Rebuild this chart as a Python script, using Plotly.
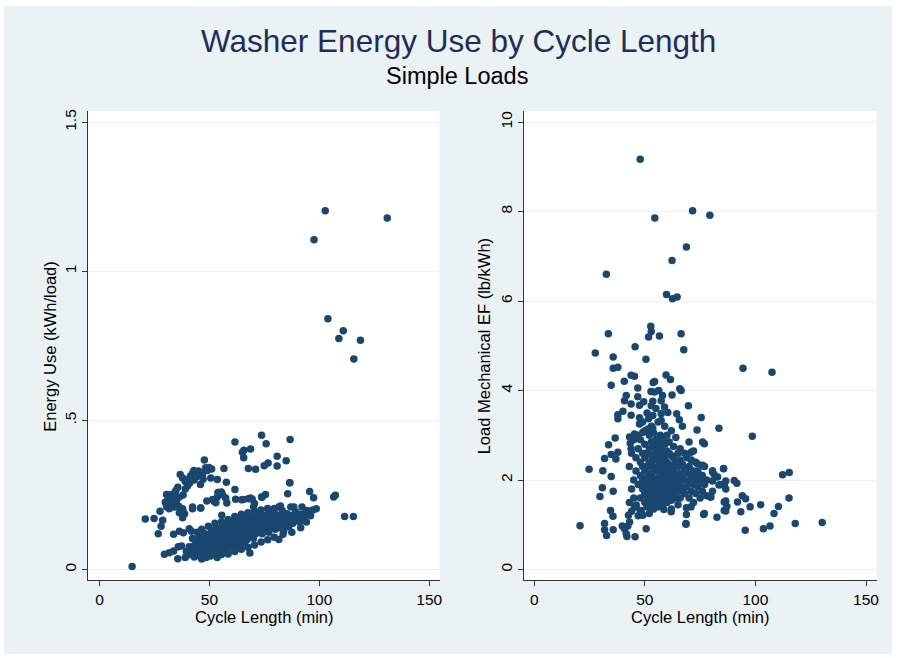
import plotly.graph_objects as go

# ---- data (cycle length in min) ----
# left panel: energy use (kWh/load)
left_outliers = [(14.8, 0.01), (102.7, 1.203), (130.9, 1.179), (97.6, 1.106), (103.9, 0.841),
                 (110.9, 0.801), (108.9, 0.775), (118.7, 0.769), (115.7, 0.706)]

left_upper = [(73.7, 0.450), (61.6, 0.428), (75.8, 0.422), (86.7, 0.436), (65.0, 0.393), (65.7, 0.400),
              (68.7, 0.404), (65.6, 0.375), (47.7, 0.367), (80.8, 0.380), (84.9, 0.365), (76.7, 0.357),
              (74.9, 0.348), (67.7, 0.339), (71.0, 0.336), (80.8, 0.347), (56.6, 0.339), (48.3, 0.341),
              (49.8, 0.342), (51.0, 0.337), (49.0, 0.332), (42.9, 0.332), (43.8, 0.328), (42.3, 0.323),
              (41.4, 0.314), (36.7, 0.319), (37.8, 0.307), (39.0, 0.295), (40.5, 0.303), (46.8, 0.315),
              (47.1, 0.303), (45.9, 0.285), (50.6, 0.307), (53.6, 0.302), (57.7, 0.293), (86.6, 0.291),
              (35.6, 0.276), (34.7, 0.265), (34.0, 0.256), (32.5, 0.251), (30.5, 0.252), (31.7, 0.240),
              (31.0, 0.232), (29.9, 0.226), (30.5, 0.210), (31.7, 0.204), (33.8, 0.237), (36.3, 0.243),
              (27.5, 0.195), (20.8, 0.169), (24.8, 0.171), (28.7, 0.165), (28.0, 0.145), (26.7, 0.120),
              (36.0, 0.212), (37.8, 0.204), (38.7, 0.187), (36.3, 0.190), (37.8, 0.174), (42.3, 0.204),
              (46.1, 0.206), (48.8, 0.230), (52.1, 0.229), (54.1, 0.258), (55.9, 0.252), (57.4, 0.240),
              (52.9, 0.224), (53.6, 0.243), (61.6, 0.268), (61.9, 0.236), (65.4, 0.235), (68.7, 0.240),
              (70.1, 0.210), (73.9, 0.242), (75.5, 0.252), (85.6, 0.254), (55.6, 0.182), (81.6, 0.210),
              (83.1, 0.198), (87.0, 0.210), (84.6, 0.187), (81.6, 0.179), (83.7, 0.171), (86.1, 0.143),
              (83.8, 0.129), (81.6, 0.101), (98.6, 0.204), (94.4, 0.198), (95.9, 0.193), (92.1, 0.210),
              (107.3, 0.249), (106.5, 0.243), (95.6, 0.262), (97.4, 0.241), (86.5, 0.291), (94.1, 0.159),
              (90.6, 0.165), (87.6, 0.176), (85.3, 0.187), (88.4, 0.210), (89.4, 0.192), (82.3, 0.213),
              (80.1, 0.165), (84.0, 0.143), (73.7, 0.243), (69.5, 0.236), (70.5, 0.221), (67.7, 0.237),
              (64.6, 0.234), (57.9, 0.223), (53.9, 0.258), (55.4, 0.260), (51.4, 0.235), (45.9, 0.206),
              (42.3, 0.210), (37.8, 0.198), (33, 0.22), (35, 0.23), (38, 0.25), (39, 0.27), (41, 0.29),
              (44, 0.31), (45, 0.33), (46, 0.325), (43, 0.30), (40, 0.28), (34, 0.21), (32, 0.225),
              (111.5, 0.178), (115.5, 0.178)]

left_fringe = [(29.5, 0.051), (31.7, 0.056), (33.7, 0.062), (35.8, 0.076), (37.3, 0.079), (35.6, 0.036),
               (39.0, 0.040), (43.1, 0.042), (45.0, 0.047), (33.7, 0.118), (36.3, 0.128), (38.1, 0.123),
               (40.8, 0.137), (41.8, 0.128), (42.3, 0.104), (45.3, 0.109), (40.8, 0.076), (43.1, 0.070),
               (68.4, 0.055), (39.5, 0.06), (41, 0.05)]

left_core = [(42, 0.06), (43, 0.08), (44, 0.05), (44, 0.09), (45, 0.07), (45, 0.10), (46, 0.06), (46, 0.085),
             (47, 0.05), (47, 0.075), (47, 0.11), (48, 0.065), (48, 0.09), (48, 0.12),
             (49, 0.07), (49, 0.10), (49, 0.055), (50, 0.08), (50, 0.115), (50, 0.06), (51, 0.09), (51, 0.13),
             (51, 0.07), (52, 0.05), (52, 0.10), (52, 0.12), (52, 0.08), (53, 0.065), (53, 0.09), (53, 0.11),
             (53, 0.14), (54, 0.075), (54, 0.10), (54, 0.125), (54, 0.055),
             (55, 0.085), (55, 0.11), (55, 0.13), (55, 0.07), (56, 0.095), (56, 0.12), (56, 0.15), (56, 0.065),
             (57, 0.08), (57, 0.105), (57, 0.13), (57, 0.09), (58, 0.07), (58, 0.10), (58, 0.12), (58, 0.14),
             (59, 0.085), (59, 0.11), (59, 0.13), (59, 0.155), (60, 0.075), (60, 0.095), (60, 0.12), (60, 0.14),
             (60, 0.105),
             (61, 0.09), (61, 0.115), (61, 0.135), (61, 0.16), (62, 0.08), (62, 0.105), (62, 0.125), (62, 0.15),
             (63, 0.095), (63, 0.12), (63, 0.14), (63, 0.165), (63, 0.11), (64, 0.085), (64, 0.105), (64, 0.13),
             (64, 0.155), (65, 0.10), (65, 0.12), (65, 0.145), (65, 0.17), (66, 0.11), (66, 0.135), (66, 0.16),
             (66, 0.09),
             (67, 0.12), (67, 0.145), (67, 0.175), (67, 0.10), (68, 0.13), (68, 0.155), (68, 0.11), (69, 0.14),
             (69, 0.165), (69, 0.12), (70, 0.105), (70, 0.13), (70, 0.15), (70, 0.175), (71, 0.14), (71, 0.16),
             (71, 0.12), (72, 0.13), (72, 0.15), (72, 0.17), (72, 0.19),
             (73, 0.14), (73, 0.16), (74, 0.12), (74, 0.15), (74, 0.175), (75, 0.135), (75, 0.16), (75, 0.18),
             (76, 0.145), (76, 0.17), (77, 0.125), (77, 0.155), (77, 0.19), (78, 0.14), (78, 0.165), (79, 0.15),
             (79, 0.175), (80, 0.135), (80, 0.16), (80, 0.185),
             (81, 0.15), (82, 0.17), (82, 0.14), (83, 0.16), (84, 0.18), (85, 0.15), (85, 0.17), (86, 0.165),
             (87, 0.18), (88, 0.155), (88, 0.175), (89, 0.19), (90, 0.17), (91, 0.16), (92, 0.185), (93, 0.175),
             (94, 0.19), (96, 0.18), (97, 0.2)]

# edges of the dense band (lower and upper fringe of the blob)
left_band_edges = [(46.5, 0.035), (48.5, 0.04), (50.5, 0.045), (53.5, 0.04), (55.5, 0.05), (58.5, 0.052),
                   (61.5, 0.06), (64.5, 0.068), (67.5, 0.075), (70.5, 0.082), (73.5, 0.092), (76.5, 0.1),
                   (79.5, 0.108), (83.5, 0.118), (87.5, 0.125), (91.5, 0.14), (44.5, 0.125), (46.5, 0.135),
                   (49.5, 0.145), (52.5, 0.155), (55.5, 0.16), (58.5, 0.168), (61.5, 0.178), (64.5, 0.185),
                   (67.5, 0.19), (70.5, 0.195), (73.5, 0.2), (76.5, 0.205), (79.5, 0.205), (50.5, 0.1),
                   (56.5, 0.11), (62.5, 0.14), (68.5, 0.145), (74.5, 0.16), (78.5, 0.18)]

# right panel: load mechanical EF (lb/kWh)
right_outliers = [(47.9, 9.17), (71.6, 8.02), (79.4, 7.92), (54.5, 7.86), (68.8, 7.21), (62.3, 6.91),
                  (32.6, 6.60), (59.8, 6.15), (62.5, 6.05), (64.6, 6.09)]

right_upper = [(52.7, 5.44), (52.9, 5.32), (51.7, 5.20), (33.5, 5.27), (56.6, 5.22), (66.4, 5.27),
               (27.6, 4.84), (45.6, 4.98), (67.6, 4.91), (35.7, 4.75), (50.5, 4.70), (35.7, 4.50),
               (37.8, 4.52), (43.8, 4.34), (45.3, 4.32), (59.6, 4.35), (61.6, 4.25), (40.7, 4.21),
               (34.8, 4.12), (53.8, 4.18), (54.4, 4.20), (46.8, 4.06), (65.8, 4.04), (66.4, 4.00),
               (52.8, 3.98), (54.4, 3.97), (56.3, 4.00), (58.0, 3.89), (57.4, 3.77), (62.3, 3.90),
               (41.6, 3.89), (40.8, 3.77), (46.8, 3.86), (49.5, 3.75), (47.6, 3.67), (43.8, 3.70),
               (53.6, 3.76), (52.9, 3.66), (58.9, 3.63), (69.7, 3.66), (40.1, 3.54), (37.8, 3.46),
               (37.8, 3.37), (43.8, 3.45), (47.6, 3.39), (47.6, 3.25), (51.7, 3.37), (53.6, 3.44),
               (57.4, 3.48), (57.4, 3.33), (60.4, 3.51), (64.4, 3.48), (65.6, 3.35), (75.5, 3.40),
               (83.5, 3.16), (73.6, 3.12), (36.6, 2.94), (33.6, 2.79), (76.1, 2.85), (76.9, 2.81),
               (94.4, 4.50), (107.5, 4.41)]

right_lower = [(20.7, 0.98), (31.8, 1.03), (31.8, 0.89), (32.7, 0.76), (35.7, 0.89), (39.8, 0.97),
               (40.8, 0.91), (42.3, 0.97), (41.6, 0.80), (41.9, 0.74), (43.1, 1.06), (42.6, 1.21),
               (45.6, 0.73), (50.6, 0.91), (68.6, 1.01), (34.5, 1.32), (35.6, 1.19), (24.8, 2.24),
               (31.0, 2.21), (34.8, 2.08), (30.8, 1.83), (29.7, 1.63), (35.7, 1.75), (31.8, 2.48),
               (34.8, 2.57), (37.8, 2.62), (36.9, 2.47), (43.1, 2.96), (43.4, 2.82), (43.8, 2.70),
               (45.3, 3.03), (49.1, 3.07), (51.4, 3.14), (53.6, 3.16), (70.9, 2.62), (85.6, 2.25),
               (80.6, 2.21), (81.4, 2.12), (85.9, 1.88), (83.5, 1.89), (86.6, 1.80), (80.6, 1.75),
               (79.6, 1.62), (85.9, 1.51), (85.9, 1.32), (82.6, 1.17), (76.6, 1.23), (68.8, 1.23),
               (68.8, 1.38), (98.6, 2.98), (73.9, 2.36), (76.1, 2.33), (73.9, 2.07), (76.1, 2.03),
               (71.6, 2.14), (112.3, 2.12), (115.3, 2.17), (94.1, 1.65), (95.6, 1.58), (91.9, 1.51),
               (102.4, 1.45), (93.4, 1.29), (86.6, 1.53), (87.1, 1.41), (86.6, 1.31), (79.9, 1.62),
               (115.2, 1.60), (110.4, 1.41), (108.4, 1.25), (82.9, 2.07), (80.6, 1.98), (84.4, 1.90),
               (86.6, 1.98), (90.4, 1.99), (91.6, 1.93), (85.6, 2.26), (80.6, 2.18), (76.9, 1.25),
               (68.6, 1.03), (70.9, 1.40), (95.4, 0.88), (103.6, 0.91), (106.6, 0.97), (118.0, 1.03),
               (130.2, 1.05), (97.6, 1.40), (45.3, 1.40), (48.3, 1.32), (49.1, 1.21), (46.1, 1.44),
               (58.6, 1.34), (61.9, 1.29)]

right_core = [(43, 1.5), (43, 2.3), (44, 1.8), (44, 2.6), (44, 1.3), (45, 2.0), (45, 2.9), (45, 1.6), (46, 2.2),
              (46, 1.4), (46, 2.5), (47, 1.9), (47, 2.7), (47, 1.2), (47, 3.0),
              (48, 1.6), (48, 2.1), (48, 2.4), (48, 2.9), (48, 1.3), (49, 1.8), (49, 2.0), (49, 2.3), (49, 2.6),
              (49, 3.3), (50, 1.5), (50, 1.7), (50, 1.9), (50, 2.2), (50, 2.5), (50, 2.8), (50, 3.1), (51, 1.4),
              (51, 1.65), (51, 1.85), (51, 2.05), (51, 2.3), (51, 2.6), (51, 3.5), (52, 1.55), (52, 1.75),
              (52, 1.95), (52, 2.15), (52, 2.4), (52, 2.7), (52, 3.0), (52, 1.25),
              (53, 1.45), (53, 1.7), (53, 1.9), (53, 2.1), (53, 2.35), (53, 2.55), (53, 2.85), (53, 3.2),
              (54, 1.6), (54, 1.8), (54, 2.0), (54, 2.25), (54, 2.5), (54, 2.75), (54, 3.05), (54, 1.35),
              (55, 1.5), (55, 1.7), (55, 1.95), (55, 2.2), (55, 2.45), (55, 2.65), (55, 2.9), (55, 3.6),
              (56, 1.65), (56, 1.85), (56, 2.05), (56, 2.3), (56, 2.55), (56, 2.8), (56, 3.3), (56, 1.4),
              (57, 1.55), (57, 1.75), (57, 2.0), (57, 2.2), (57, 2.45), (57, 2.7), (57, 3.0),
              (58, 1.7), (58, 1.9), (58, 2.1), (58, 2.35), (58, 2.6), (58, 2.9), (58, 1.45), (59, 1.6),
              (59, 1.85), (59, 2.05), (59, 2.25), (59, 2.5), (59, 2.8), (59, 3.2), (60, 1.75), (60, 1.95),
              (60, 2.2), (60, 2.4), (60, 2.65), (60, 1.5), (60, 3.0), (61, 1.65), (61, 1.9), (61, 2.1),
              (61, 2.35), (61, 2.6), (61, 2.85), (62, 1.55), (62, 1.8), (62, 2.0), (62, 2.3), (62, 2.55),
              (62, 3.1), (62, 1.35),
              (63, 1.7), (63, 1.95), (63, 2.2), (63, 2.5), (63, 2.75), (64, 1.6), (64, 1.85), (64, 2.1),
              (64, 2.4), (64, 2.95), (65, 1.75), (65, 2.0), (65, 2.3), (65, 2.6), (65, 1.45), (66, 1.9),
              (66, 2.15), (66, 2.45), (66, 2.7), (66, 1.6), (67, 1.8), (67, 2.05), (67, 2.35), (67, 3.2),
              (68, 1.7), (68, 2.0), (68, 2.25), (68, 2.6),
              (69, 1.85), (69, 2.15), (69, 2.5), (70, 1.6), (70, 1.95), (70, 2.3), (70, 2.85), (71, 1.75),
              (71, 2.05), (71, 2.45), (72, 1.5), (72, 1.9), (72, 2.2), (72, 2.65), (73, 1.7), (73, 2.0),
              (73, 2.4), (74, 1.85), (74, 2.2), (75, 1.6), (75, 1.95), (76, 1.75), (76, 2.1), (77, 1.9),
              (77, 2.3), (78, 1.65), (78, 2.0)]

left_ticks = [0, 0.5, 1, 1.5]
left_ticklabels = ["0", ".5", "1", "1.5"]
right_ticks = [0, 2, 4, 6, 8, 10]
x_ticks = [0, 50, 100, 150]

NAVY = "#1a476f"
BG = "#eaf2f3"
W, H = 899, 658

left_pts = left_outliers + left_upper + left_fringe + left_core + left_band_edges
right_pts = right_outliers + right_upper + right_lower + right_core

fig = go.Figure()
marker = dict(color=NAVY, size=7.5, line=dict(width=0))
fig.add_trace(go.Scatter(x=[p[0] for p in left_pts], y=[p[1] for p in left_pts],
                         mode="markers", marker=marker, xaxis="x", yaxis="y"))
fig.add_trace(go.Scatter(x=[p[0] for p in right_pts], y=[p[1] for p in right_pts],
                         mode="markers", marker=marker, xaxis="x2", yaxis="y2"))

font = "Liberation Sans, Arial, Helvetica, sans-serif"
tickfont = dict(family=font, size=15.5, color="black")
ydom = [(H - 580) / H, (H - 109.3) / H]

common_x = dict(tickvals=x_ticks, ticks="outside", ticklen=5, tickcolor="#333",
                showline=True, linecolor="#333", linewidth=1, showgrid=False,
                zeroline=False, tickfont=tickfont)
common_y = dict(ticks="outside", ticklen=5, tickcolor="#333", showline=True,
                linecolor="#333", linewidth=1, showgrid=True, gridcolor=BG, gridwidth=1,
                zeroline=False, tickangle=-90, tickfont=tickfont)

fig.update_layout(
    width=W, height=H, showlegend=False,
    margin=dict(l=0, r=0, t=0, b=0),
    paper_bgcolor=BG, plot_bgcolor="white",
    xaxis=dict(domain=[88 / W, 441 / W], range=[-5.4, 154.7], anchor="y", **common_x),
    yaxis=dict(domain=ydom, range=[-0.036, 1.538], anchor="x",
               tickvals=left_ticks, ticktext=left_ticklabels, **common_y),
    xaxis2=dict(domain=[525.6 / W, 880 / W], range=[-4.7, 155], anchor="y2", **common_x),
    yaxis2=dict(domain=ydom, range=[-0.24, 10.25], anchor="x2",
                tickvals=right_ticks, **common_y),
    shapes=[dict(type="rect", xref="paper", yref="paper", x0=0, y0=0, x1=1, y1=1,
                 line=dict(color="white", width=8), layer="above")],
)

def ann(text, x, y, size, color="black", angle=0):
    fig.add_annotation(text=text, x=x / W, y=1 - y / H, xref="paper", yref="paper",
                       showarrow=False, textangle=angle, xanchor="center", yanchor="middle",
                       font=dict(family=font, size=size, color=color))

ann("Washer Energy Use by Cycle Length", 460, 39, 31.5, color="#1f2d5c")
ann("Simple Loads", 459, 74, 23.5)
ann("Cycle Length (min)", 264.5, 617, 16.5)
ann("Cycle Length (min)", 702.8, 617, 16.5)
ann("Energy Use (kWh/load)", 50, 345, 16.5, angle=-90)
ann("Load Mechanical EF (lb/kWh)", 486, 345, 16.5, angle=-90)

# page body has a default 8px margin; remove it so the figure sits at the window origin
fig.write_html("out.html", config={"displayModeBar": False},
               post_script="document.body.style.margin='0';")
